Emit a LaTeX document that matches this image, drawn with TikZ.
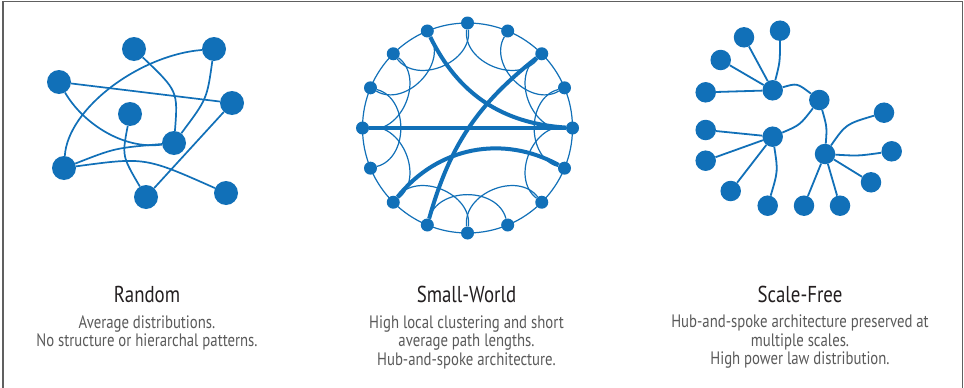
\documentclass[tikz,border=0pt]{standalone}
\usepackage{fontspec}
\setmainfont{PT Sans}[FakeStretch=0.82]
\definecolor{nodeblue}{HTML}{1170B8}
\definecolor{descgray}{HTML}{5A5A5A}
\definecolor{titleblack}{HTML}{231F20}
\definecolor{framegray}{HTML}{606060}
\begin{document}
\begin{tikzpicture}[x=1pt,y=-1pt,
  rdot/.style={circle,fill=nodeblue,inner sep=0pt,minimum size=24pt},
  swdot/.style={circle,fill=nodeblue,inner sep=0pt,minimum size=13pt},
  sfdot/.style={circle,fill=nodeblue,inner sep=0pt,minimum size=20.5pt},
  redge/.style={draw=nodeblue,line width=1.7pt},
  swthin/.style={draw=nodeblue,line width=1.2pt},
  swthick/.style={draw=nodeblue,line width=4pt},
  sfedge/.style={draw=nodeblue,line width=1.8pt},
  titletxt/.style={font=\fontsize{23}{26}\selectfont,text=titleblack,inner sep=0pt},
  desctxt/.style={font=\fontsize{18}{18.5}\selectfont,text=descgray,align=center,inner sep=0pt}]

\useasboundingbox (0,0) rectangle (964,388);
\fill[white] (0,0) rectangle (964,388);
\draw[draw=framegray,line width=1.5pt] (3,388) -- (3,1.5) -- (962.5,1.5) -- (962.5,388);

% ---------- Random ----------
\node[rdot] (A) at (134,49) {};
\node[rdot] (B) at (214,49) {};
\node[rdot] (C) at (59,82) {};
\node[rdot] (D) at (232,103) {};
\node[rdot] (E) at (130,114) {};
\node[rdot] (F) at (174,143) {};
\node[rdot] (G) at (64,168) {};
\node[rdot] (H) at (146,197) {};
\node[rdot] (I) at (226,193) {};
\draw[redge] (A) .. controls (178,91) .. (F);
\draw[redge] (B) .. controls (207,99) .. (F);
\draw[redge] (B) .. controls (140,55) and (68,108) .. (G);
\draw[redge] (C) -- (D);
\draw[redge] (C) .. controls (82,122) and (122,150) .. (F);
\draw[redge] (E) .. controls (122,156) .. (H);
\draw[redge] (D) -- (H);
\draw[redge] (G) .. controls (115,148) .. (F);
\draw[redge] (G) .. controls (145,157) .. (I);

% ---------- Small-World ----------
\coordinate (swc) at (467.5,128);
\draw[swthin] (swc) circle (105pt);
\foreach \k [evaluate=\k as \ang using 90+22.5*\k] in {0,...,15}
  \node[swdot] (k\k) at ([shift={(\ang:105pt)}]swc) {};
\foreach \i/\j in {0/2,1/3,2/4,3/5,4/6,6/8,7/9,8/10,10/12,11/13,12/14,13/15,14/0}
  \draw[swthin] (k\i) to[bend left=75,looseness=1.1] (k\j);
\draw[swthick] (k1) to[bend right=30] (k12);
\draw[swthick] (k7) to[bend left=18] (k14);
\draw[swthick] (k4) -- (k12);
\draw[swthick] (k6) to[bend left=40] (k11);

% ---------- Scale-Free ----------
\node[sfdot] (L1) at (780,30.7) {};
\node[sfdot] (L2) at (744,37.3) {};
\node[sfdot] (L3) at (720.7,60) {};
\node[sfdot] (L4) at (705.7,92.3) {};
\node[sfdot] (H1) at (772.7,90.3) {};
\node[sfdot] (H2) at (819.3,100) {};
\node[sfdot] (H3) at (772.7,136.7) {};
\node[sfdot] (H4) at (825,154) {};
\node[sfdot] (L5) at (705.7,130) {};
\node[sfdot] (L6) at (705.7,160.7) {};
\node[sfdot] (L7) at (730.7,191) {};
\node[sfdot] (L8) at (767.7,205.7) {};
\node[sfdot] (L9) at (804,205.7) {};
\node[sfdot] (L10) at (840,205.7) {};
\node[sfdot] (L11) at (871,182.3) {};
\node[sfdot] (L12) at (891.7,151.3) {};
\node[sfdot] (L13) at (884,112.7) {};
\draw[sfedge] (H1) .. controls (780,62) .. (L1);
\draw[sfedge] (H1) -- (L2);
\draw[sfedge] (H1) -- (L3);
\draw[sfedge] (H1) -- (L4);
\draw[sfedge] (H1) .. controls (797,83) .. (H2);
\draw[sfedge] (H2) .. controls (800,125) .. (H3);
\draw[sfedge] (H2) .. controls (827,127) .. (H4);
\draw[sfedge] (H3) -- (L5);
\draw[sfedge] (H3) -- (L6);
\draw[sfedge] (H3) -- (L7);
\draw[sfedge] (H3) .. controls (778,171) .. (L8);
\draw[sfedge] (H4) -- (L9);
\draw[sfedge] (H4) -- (L10);
\draw[sfedge] (H4) -- (L11);
\draw[sfedge] (H4) .. controls (858,156) .. (L12);
\draw[sfedge] (H4) .. controls (846,124) .. (L13);

% ---------- Texts ----------
\node[titletxt] (t1) at (147,294) {Random};
\node[titletxt] (t2) at (466.5,294) {Small-World};
\node[titletxt] (t3) at (800,294) {Scale-Free};
\node[desctxt] (d1) at (147,333) {Average distributions.\\No structure or hierarchal patterns.};
\node[desctxt] (d2) at (466.5,342) {High local clustering and short\\average path lengths.\\Hub-and-spoke architecture.};
\node[desctxt] (d3) at (800,342) {Hub-and-spoke architecture preserved at\\multiple scales.\\High power law distribution.};
\end{tikzpicture}
\end{document}
